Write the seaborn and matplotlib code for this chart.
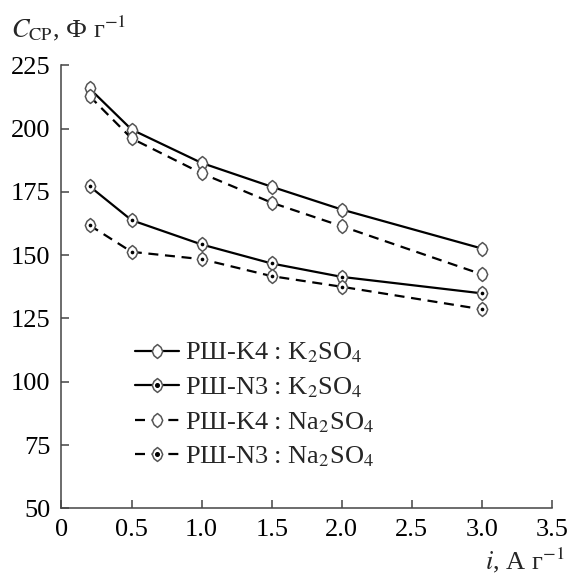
import pandas as pd
import matplotlib
matplotlib.use("Agg")
import matplotlib.pyplot as plt
import seaborn as sns
from matplotlib.path import Path
from matplotlib.lines import Line2D

# data
tok = [0.2, 0.5, 1.0, 1.5, 2.0, 3.0]
k4_k2so4 = [215.8, 199.6, 186.4, 177.0, 168.0, 152.6]
n3_k2so4 = [177.2, 163.8, 154.2, 146.7, 141.4, 134.9]
k4_na2so4 = [212.8, 196.1, 182.3, 170.7, 161.4, 142.4]
n3_na2so4 = [161.8, 151.3, 148.4, 141.7, 137.5, 128.6]

nazvy = [
    "РШ-K4 : K$_2$SO$_4$",
    "РШ-N3 : K$_2$SO$_4$",
    "РШ-K4 : Na$_2$SO$_4$",
    "РШ-N3 : Na$_2$SO$_4$",
]
xticks = [0, 0.5, 1.0, 1.5, 2.0, 2.5, 3.0, 3.5]
xtick_labels = ["0", "0.5", "1.0", "1.5", "2.0", "2.5", "3.0", "3.5"]
yticks = [50, 75, 100, 125, 150, 175, 200, 225]

df = pd.DataFrame({
    "i": tok * 4,
    "C": k4_k2so4 + n3_k2so4 + k4_na2so4 + n3_na2so4,
    "serie": [n for n in nazvy for _ in tok],
})

sns.set_style("ticks")
plt.rcParams["font.family"] = ["Liberation Serif", "DejaVu Serif"]
plt.rcParams["mathtext.fontset"] = "stix"

# rounded diamond marker
romb = Path([(0, 1), (0.5, 0.6), (0.75, 0), (0.5, -0.6), (0, -1),
             (-0.5, -0.6), (-0.75, 0), (-0.5, 0.6), (0, 1)], closed=True)

carkovana = (0, (4.5, 3))
styly = {
    nazvy[0]: ("-", False),
    nazvy[1]: ("-", True),
    nazvy[2]: (carkovana, False),
    nazvy[3]: (carkovana, True),
}

fig = plt.figure(figsize=(5.72, 5.77), dpi=100)
ax = fig.add_axes([0.1075, 0.119, 0.8575, 0.768])

mk = dict(marker=romb, markersize=10, markerfacecolor="white",
          markeredgecolor="#555555", markeredgewidth=1.1)

handles = []
for nazev in nazvy:
    ls, tecka = styly[nazev]
    d = df[df["serie"] == nazev]
    sns.lineplot(data=d, x="i", y="C", ax=ax, color="black", linewidth=1.6,
                 linestyle=ls, legend=False, **mk)
    h = [Line2D([], [], color="black", linewidth=1.6, linestyle=ls, **mk)]
    if tecka:
        sns.scatterplot(data=d, x="i", y="C", ax=ax, color="black", s=7,
                        linewidth=0, zorder=5, legend=False)
        h.append(Line2D([], [], linestyle="none", marker="o", markersize=2.6,
                        color="black"))
    handles.append(tuple(h))

ax.set_xlim(0, 3.5)
ax.set_ylim(50, 225)
ax.set_xticks(xticks)
ax.set_xticklabels(xtick_labels)
ax.set_yticks(yticks)
ax.tick_params(direction="in", length=6, width=1.1, labelsize=19, pad=8,
               color="#444444", labelcolor="black")
sns.despine(ax=ax)
for s in ["left", "bottom"]:
    ax.spines[s].set_color("#444444")
    ax.spines[s].set_linewidth(1.1)

ax.set_ylabel("$C_{\\mathrm{CP}}$, Ф г$^{-1}$", rotation=0, fontsize=19,
              ha="left", va="baseline")
ax.yaxis.set_label_coords(-0.103, 1.063)
ax.set_xlabel("$i$, А г$^{-1}$", fontsize=19, ha="right", va="baseline")
ax.xaxis.set_label_coords(1.025, -0.138)

ax.legend(handles, nazvy, loc="upper left", bbox_to_anchor=(0.15, 0.378),
          frameon=False, fontsize=19, handlelength=1.65, handletextpad=0.25,
          labelspacing=0.38, borderpad=0, borderaxespad=0)

fig.savefig("out.png", dpi=100)
